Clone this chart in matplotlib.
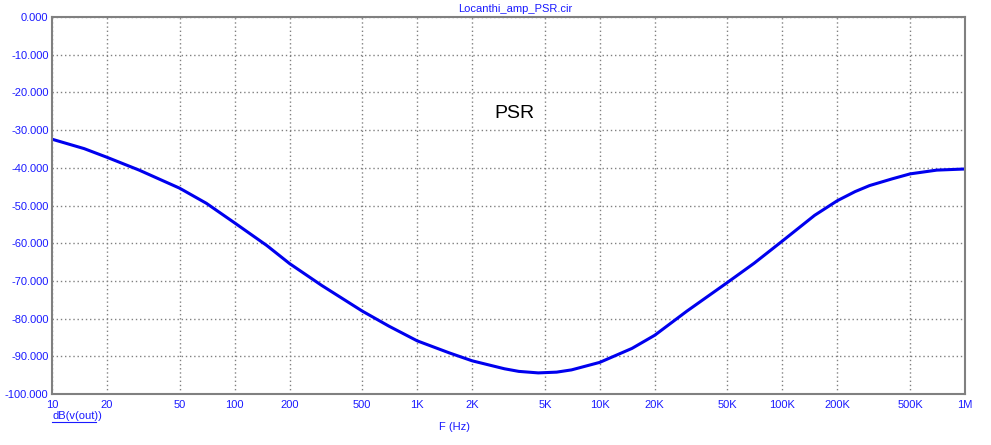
import matplotlib.pyplot as plt
from matplotlib.lines import Line2D
from matplotlib.ticker import FixedLocator, NullLocator

# Frequency response (PSR of Locanthi amp)
freq = [10, 15, 20, 30, 50, 70, 100, 150, 200, 300, 500, 700,
        1e3, 1.5e3, 2e3, 3e3, 3.6e3, 4.6e3, 5.8e3, 7e3, 10e3, 15e3, 20e3, 30e3, 50e3,
        70e3, 100e3, 150e3, 200e3, 250e3, 300e3, 400e3, 500e3, 700e3, 1e6]
db_out = [-32.4, -34.9, -37.2, -40.6, -45.4, -49.4, -54.6, -60.6, -65.4, -71.2, -78.0, -82.0,
          -85.9, -89.1, -91.2, -93.3, -94.0, -94.4, -94.2, -93.6, -91.6, -87.9, -84.4, -78.0, -70.4,
          -65.3, -59.4, -52.6, -48.7, -46.3, -44.7, -42.9, -41.6, -40.6, -40.3]

x_ticks = [10, 20, 50, 100, 200, 500, 1e3, 2e3, 5e3, 10e3, 20e3, 50e3, 100e3, 200e3, 500e3, 1e6]
x_labels = ["10", "20", "50", "100", "200", "500", "1K", "2K", "5K", "10K", "20K", "50K",
            "100K", "200K", "500K", "1M"]
y_ticks = [0, -10, -20, -30, -40, -50, -60, -70, -80, -90, -100]

blue = "#1a1aff"
plt.rcParams['font.family'] = ['Liberation Sans', 'DejaVu Sans']

fig = plt.figure(figsize=(9.91, 4.45), dpi=100)
ax = fig.add_axes([0.0525, 0.1146, 0.9213, 0.847])

ax.plot(freq, db_out, color="#0000ee", lw=2.2)

ax.set_xscale("log")
ax.set_xlim(10, 1e6)
ax.set_ylim(-100, 0)
ax.xaxis.set_major_locator(FixedLocator(x_ticks))
ax.xaxis.set_minor_locator(NullLocator())
ax.set_xticklabels(x_labels)
ax.set_yticks(y_ticks)
ax.set_yticklabels([f"{v:.3f}" for v in y_ticks])
ax.tick_params(length=0, labelsize=8, labelcolor=blue)
ax.tick_params(axis="x", pad=4)
ax.tick_params(axis="y", pad=2.5)
ax.grid(True, color="#808080", linestyle=(0, (1, 2)), lw=1)

for s in ax.spines.values():
    s.set_color("#808080")
    s.set_linewidth(1.5)

fig.text(0.52, 0.98, "Locanthi_amp_PSR.cir", ha="center", va="center", fontsize=8, color=blue)
ax.text(0.506, 0.745, "PSR", transform=ax.transAxes, ha="center", va="center", fontsize=14, color="black")
fig.text(0.459, 0.04, "F (Hz)", ha="center", va="center", fontsize=8, color=blue)
fig.text(0.0525, 0.066, "dB(v(out))", ha="left", va="center", fontsize=8, color=blue)
fig.add_artist(Line2D([0.0525, 0.0965], [0.051, 0.051], color=blue, lw=0.8))

fig.savefig("out.png", dpi=100, facecolor="white")
